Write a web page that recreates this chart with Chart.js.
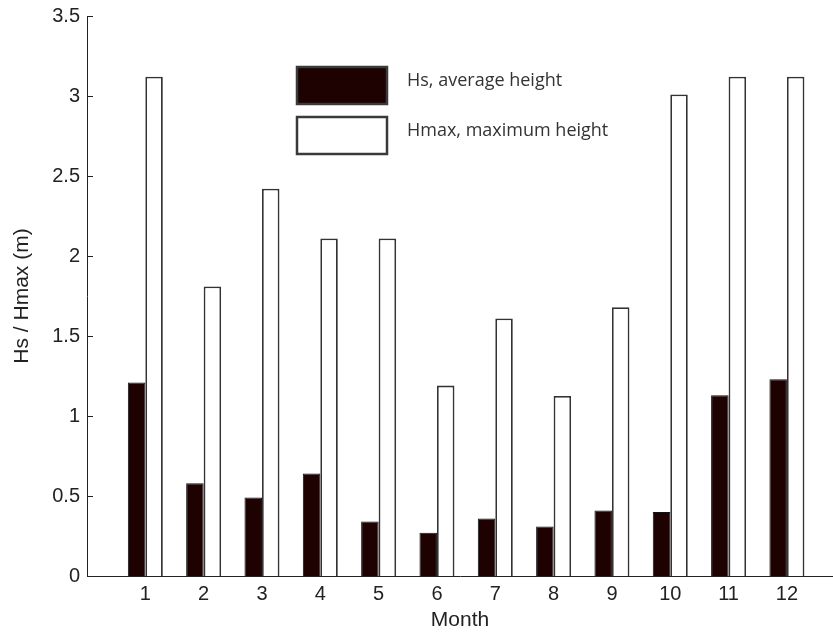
<!DOCTYPE html>
<html>
<head>
<meta charset="utf-8">
<script src="https://cdn.jsdelivr.net/npm/chart.js@4/dist/chart.umd.min.js"></script>
<style>
  html, body { margin: 0; padding: 0; background: #fff; }
  #wrap { width: 833px; height: 636px; position: relative; }
</style>
</head>
<body>
<div id="wrap"><canvas id="c" width="833" height="636"></canvas></div>
<script>
// ---- data ----
const months = [1, 2, 3, 4, 5, 6, 7, 8, 9, 10, 11, 12];
const hsValues = [1.21, 0.58, 0.49, 0.64, 0.34, 0.27, 0.36, 0.31, 0.41, 0.40, 1.13, 1.23];
const hmaxValues = [3.12, 1.81, 2.42, 2.11, 2.11, 1.19, 1.61, 1.125, 1.68, 3.01, 3.12, 3.12];
const yTickValues = [0, 0.5, 1, 1.5, 2, 2.5, 3, 3.5];
const seriesLabels = ['Hs, average height', 'Hmax, maximum height'];
const xTitle = 'Month';
const yTitle = 'Hs / Hmax (m)';

const axisColor = '#222';
const tickFont = { family: "'Liberation Sans', Arial, sans-serif", size: 20 };
const titleFont = { family: "'Liberation Sans', Arial, sans-serif", size: 21 };

// inward tick marks on the y axis
const innerTicks = {
  id: 'innerTicks',
  afterDraw(chart) {
    const y = chart.scales.y;
    const ctx = chart.ctx;
    ctx.save();
    ctx.strokeStyle = axisColor;
    ctx.lineWidth = 1;
    yTickValues.forEach(v => {
      if (v === 0) return;
      const py = Math.round(y.getPixelForValue(v)) + 0.5;
      ctx.beginPath();
      ctx.moveTo(y.right, py);
      ctx.lineTo(y.right + 6, py);
      ctx.stroke();
    });
    ctx.restore();
  }
};

// legend drawn inside the plot area
const innerLegend = {
  id: 'innerLegend',
  afterDraw(chart) {
    const ctx = chart.ctx;
    const area = chart.chartArea;
    const x0 = area.left + 210;
    const y0 = area.top + 51;
    const boxW = 90, boxH = 37, gap = 13;
    ctx.save();
    chart.data.datasets.forEach((ds, i) => {
      const by = y0 + i * (boxH + gap);
      ctx.fillStyle = ds.backgroundColor;
      ctx.fillRect(x0, by, boxW, boxH);
      ctx.strokeStyle = '#3a3a3a';
      ctx.lineWidth = 2.5;
      ctx.strokeRect(x0, by, boxW, boxH);
      ctx.fillStyle = '#333';
      ctx.font = "18px 'Open Sans', sans-serif";
      ctx.textBaseline = 'middle';
      ctx.textAlign = 'left';
      ctx.fillText(ds.label, x0 + 110, by + boxH / 2 - 5);
    });
    ctx.restore();
  }
};

new Chart(document.getElementById('c'), {
  type: 'bar',
  data: {
    datasets: [
      {
        label: seriesLabels[0],
        data: months.map((m, i) => ({ x: m, y: hsValues[i] })),
        backgroundColor: '#1e0202',
        borderColor: '#111',
        borderWidth: 1,
        borderSkipped: 'bottom'
      },
      {
        label: seriesLabels[1],
        data: months.map((m, i) => ({ x: m, y: hmaxValues[i] })),
        backgroundColor: '#ffffff',
        borderColor: '#333',
        borderWidth: 1.8,
        borderSkipped: 'bottom'
      }
    ]
  },
  options: {
    responsive: false,
    animation: false,
    events: [],
    categoryPercentage: 0.6,
    barPercentage: 1.0,
    layout: { padding: { left: 10, top: 16, right: 0, bottom: 3 } },
    plugins: {
      legend: { display: false },
      tooltip: { enabled: false },
      title: { display: false }
    },
    scales: {
      x: {
        type: 'linear',
        offset: false,
        min: 0,
        max: 12.79,
        afterBuildTicks(scale) { scale.ticks = months.map(v => ({ value: v })); },
        afterFit(scale) { scale.height = 57; scale.paddingLeft = 0; scale.paddingRight = 0; },
        grid: { display: false, drawTicks: false },
        border: { display: true, color: axisColor, width: 1 },
        ticks: {
          color: axisColor,
          font: tickFont,
          padding: 6,
          autoSkip: false,
          maxRotation: 0,
          callback: v => String(v)
        },
        title: {
          display: true,
          text: xTitle,
          color: axisColor,
          font: titleFont,
          padding: 0
        }
      },
      y: {
        min: 0,
        max: 3.5,
        afterBuildTicks(scale) { scale.ticks = yTickValues.map(v => ({ value: v })); },
        afterFit(scale) { scale.width = 77; scale.paddingTop = 0; scale.paddingBottom = 0; },
        grid: { display: false, drawTicks: false },
        border: { display: true, color: axisColor, width: 1 },
        ticks: {
          color: axisColor,
          font: tickFont,
          padding: 7,
          callback: v => String(v)
        },
        title: {
          display: true,
          text: yTitle,
          color: axisColor,
          font: titleFont,
          padding: 0
        }
      }
    }
  },
  plugins: [innerTicks, innerLegend]
});
</script>
</body>
</html>
